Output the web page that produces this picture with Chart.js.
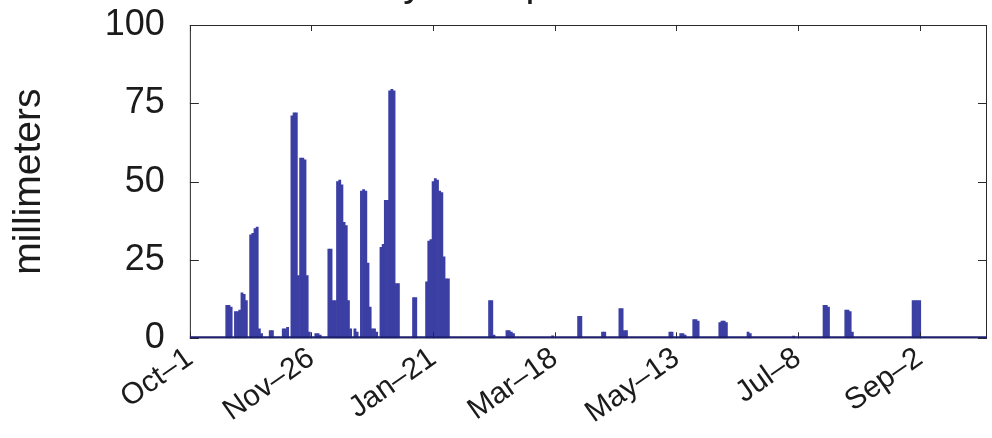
<!DOCTYPE html>
<html>
<head>
<meta charset="utf-8">
<title>Daily Precipitation</title>
<script src="https://cdn.jsdelivr.net/npm/chart.js@4.4.1/dist/chart.umd.min.js"></script>
<style>
  html, body { margin: 0; padding: 0; background: #fff; }
  #wrap { position: relative; width: 992px; height: 438px; overflow: hidden; }
  #chart { position: absolute; left: 0; top: -39px; }
</style>
</head>
<body>
<div id="wrap"><canvas id="chart" width="992" height="477"></canvas></div>
<script>
// rainy days, counted from Oct-1 (day 0), and the amount that fell on each (mm)
const rainDays = [
  17, 18, 19, 21, 22, 23, 24, 25, 26, 28, 29, 30, 31, 32, 33,
  37, 38, 43, 44, 45, 47, 48, 49, 50, 51, 52, 53, 54, 55,
  58, 59, 60, 64, 65, 66, 67, 68, 69, 70, 71, 72, 73, 74,
  76, 77, 79, 80, 81, 82, 83, 84, 85, 86,
  88, 89, 90, 91, 92, 93, 94, 95, 96, 103, 104,
  109, 110, 111, 112, 113, 114, 115, 116, 117, 118, 119,
  138, 139, 140, 146, 147, 148, 149, 167, 179, 180, 190, 191,
  198, 199, 200, 201, 221, 222, 226, 227, 228, 232, 233, 234,
  244, 245, 246, 247, 257, 258, 278, 292, 293, 294,
  302, 303, 304, 305, 333, 334, 335, 336
];
const rainMm = [
  10.5, 10.5, 10, 8.5, 8.5, 9, 14.5, 14, 12, 33, 33.5, 35, 35.5, 3, 1.5,
  2.5, 2.5, 3, 3, 3.5, 71, 72, 72, 20, 57.5, 57.5, 57, 20, 2,
  1.5, 1.5, 1, 28.5, 28.5, 12, 12, 50, 50.5, 49, 37, 36, 12, 3,
  3, 2, 47, 47.5, 47, 24, 10, 3, 3, 2,
  29, 30, 44, 44, 79, 79.5, 79, 17.5, 17.5, 13, 13,
  18, 31, 31.5, 50, 51, 50.5, 47, 46.5, 26, 19, 19,
  12, 12, 1, 2.5, 2.5, 2, 1.5, 0.8, 7, 7, 2, 2,
  9.5, 9.5, 2.5, 2.5, 2, 2, 1.5, 1.5, 1, 6, 6, 5.5,
  5, 5.5, 5.5, 5, 2, 1.5, 0.7, 10.5, 10.5, 10,
  9, 9, 8.5, 2, 12, 12, 12, 12
];

const tickDays = [0, 56, 112, 168, 224, 280, 336];
const tickLabels = ['Oct–1', 'Nov–26', 'Jan–21', 'Mar–18', 'May–13', 'Jul–8', 'Sep–2'];
const yTicks = [0, 25, 50, 75, 100];
const lastDay = 367;

const FONT = '"Liberation Sans", Arial, Helvetica, sans-serif';
const INK = '#1b1b1b';

// axes box with inward tick marks on all four sides, plus the bar baseline
const boxTicks = {
  id: 'boxTicks',
  afterDatasetsDraw(chart) {
    const { ctx, chartArea: a, scales: { x, y } } = chart;
    ctx.save();
    ctx.strokeStyle = '#2a2a2a';
    ctx.lineWidth = 1;
    ctx.strokeRect(a.left + 0.5, a.top + 0.5, a.width - 1, a.height - 1);
    ctx.beginPath();
    tickDays.forEach(d => {
      const px = Math.round(x.getPixelForValue(d)) + 0.5;
      ctx.moveTo(px, a.bottom); ctx.lineTo(px, a.bottom - 6);
      ctx.moveTo(px, a.top); ctx.lineTo(px, a.top + 6);
    });
    yTicks.forEach(v => {
      const py = Math.round(y.getPixelForValue(v)) + 0.5;
      ctx.moveTo(a.left, py); ctx.lineTo(a.left + 9, py);
      ctx.moveTo(a.right, py); ctx.lineTo(a.right - 9, py);
    });
    ctx.stroke();
    const base = y.getPixelForValue(0);
    ctx.strokeStyle = '#1e2070';
    ctx.lineWidth = 2;
    ctx.beginPath();
    ctx.moveTo(a.left, base - 1);
    ctx.lineTo(a.right, base - 1);
    ctx.stroke();
    ctx.restore();
  }
};

new Chart(document.getElementById('chart'), {
  type: 'bar',
  data: {
    datasets: [{
      data: rainDays.map((d, i) => ({ x: d, y: rainMm[i] })),
      backgroundColor: '#3b3fa3',
      borderWidth: 0,
      barPercentage: 1,
      categoryPercentage: 1
    }]
  },
  options: {
    responsive: false,
    animation: false,
    layout: { padding: { left: 2, right: 5, top: 0, bottom: 5 } },
    plugins: {
      legend: { display: false },
      tooltip: { enabled: false },
      title: {
        display: true,
        text: 'Daily Precipitation',
        color: INK,
        font: { family: FONT, size: 40, weight: 'normal' },
        padding: { top: 0, bottom: 16 }
      }
    },
    scales: {
      x: {
        type: 'linear',
        offset: false,
        min: 0,
        max: lastDay,
        grid: { display: false, drawTicks: false, offset: false },
        border: { display: false },
        afterBuildTicks: scale => { scale.ticks = tickDays.map(v => ({ value: v })); },
        ticks: {
          autoSkip: false,
          minRotation: 35,
          maxRotation: 35,
          padding: 2,
          color: INK,
          font: { family: FONT, size: 30 },
          callback: v => tickLabels[tickDays.indexOf(v)]
        }
      },
      y: {
        min: 0,
        max: 100,
        grid: { display: false, drawTicks: false },
        border: { display: false },
        afterBuildTicks: scale => { scale.ticks = yTicks.map(v => ({ value: v })); },
        ticks: {
          padding: 25,
          color: INK,
          font: { family: FONT, size: 36 }
        },
        title: {
          display: true,
          text: 'millimeters',
          color: INK,
          font: { family: FONT, size: 39 },
          padding: { top: 4, bottom: 27 }
        }
      }
    }
  },
  plugins: [boxTicks]
});
</script>
</body>
</html>
